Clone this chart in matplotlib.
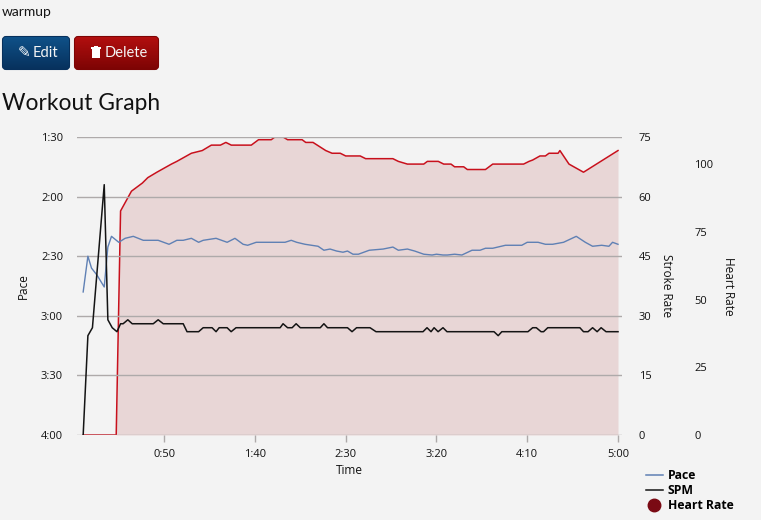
import numpy as np
import matplotlib
matplotlib.use('Agg')
import matplotlib.pyplot as plt
from matplotlib.lines import Line2D
from matplotlib.patches import FancyBboxPatch, Rectangle
from matplotlib.ticker import FuncFormatter

plt.rcParams['font.family'] = ['Open Sans', 'DejaVu Sans']

# seconds into the workout / pace in seconds per 500m
pace_time = [5.4, 8, 10, 13, 17, 19, 21, 25, 28.5, 33, 38.5, 46.7, 52.7, 57, 60.5, 65, 69, 71.5, 78.6,
             84.7, 89, 93.5, 96, 100.7, 108, 112.8, 116.6, 120, 123, 127.6, 134.8, 138, 141.4, 145,
             148.5, 151, 154, 157, 163, 170.6, 176, 179, 184, 188, 193, 197.6, 200, 203.6, 206, 210,
             214, 219.6, 224, 227, 231, 238, 247, 250, 256, 260, 264, 270, 277, 282, 286, 291, 295,
             297, 300]
pace_values = [168, 150, 156, 159.5, 165.5, 145.4, 140, 143, 141, 140, 142, 142, 144, 142, 142, 141,
               143, 142, 141, 143, 141, 144, 144.5, 143, 143, 143, 143, 142, 143, 144, 145, 147, 146.4,
               147.4, 148, 147.4, 149, 149, 147, 146.4, 145.4, 147, 146.4, 147.4, 149, 149.4, 149,
               149.4, 149.4, 149, 149.4, 147, 147, 146, 146, 144.5, 144.5, 143, 143, 144, 144, 143,
               140, 143, 145, 144.5, 145, 143, 144]

spm_time = [5.4, 8, 10.5, 17, 19, 21.4, 24, 26, 27.4, 30, 32.4, 44, 46.7, 49.5, 60.5, 62.6, 69, 71.5,
            76.4, 78.6, 80.3, 84.7, 86.9, 89.6, 113.9, 115.5, 118, 120.5, 122.7, 125, 136, 138, 140,
            151, 153.5, 156, 163.4, 166.7, 192.6, 194.8, 197, 198.7, 200.9, 203.6, 205.8, 231.7, 234,
            236, 250.4, 253, 255, 257.6, 259, 261.3, 279, 281, 283.5, 286, 288.5, 290.7, 293.4, 300]
spm_values = [0, 25, 27, 63, 29, 27, 26, 28, 28, 29, 28, 28, 29, 28, 28, 26, 26, 27, 27, 26, 27, 27, 26,
              27, 27, 28, 27, 27, 28, 27, 27, 28, 27, 27, 26, 27, 27, 26, 26, 27, 26, 27, 26, 27, 26,
              26, 25, 26, 26, 27, 27, 26, 26, 27, 27, 26, 26, 27, 26, 27, 26, 26]

hr_time = [5.4, 23.6, 26, 32, 38, 41, 46, 54, 57, 65, 71, 76, 81, 84, 87, 98, 102, 109, 111, 115.5, 118,
           126, 128, 132, 139, 142.5, 147, 150, 158, 161, 176, 179, 184, 193, 195, 201, 204, 208, 210,
           215, 217, 227, 231, 248, 251, 253, 257, 260, 262, 267, 268, 273, 281, 300]
hr_values = [0, 0, 82.7, 90, 93, 95, 97, 100, 101, 104, 105, 107, 107, 108, 107, 107, 109, 109, 110, 110,
             109, 109, 108, 108, 105, 104, 104, 103, 103, 102, 102, 101, 100, 100, 101, 101, 100, 100,
             99, 99, 98, 98, 100, 100, 101, 101.5, 103, 103, 104, 104, 105, 100, 97, 105]

pace_ticks = [90, 120, 150, 180, 210, 240]
spm_ticks = [0, 15, 30, 45, 60, 75]
hr_ticks = [0, 25, 50, 75, 100]
time_ticks = [50, 100, 150, 200, 250, 300]

W, H = 761, 520
bg = '#f3f3f3'
fig = plt.figure(figsize=(W / 100, H / 100), dpi=100, facecolor=bg)

# page furniture, in pixels
page = fig.add_axes([0, 0, 1, 1], zorder=0)
page.axis('off')


def button(x, y, w, h, top, bottom):
    box = FancyBboxPatch((x + 1, y + 1), w - 2, h - 2, boxstyle='round,pad=0,rounding_size=3',
                         mutation_aspect=1, linewidth=1.5, edgecolor=bottom, facecolor=top)
    page.add_patch(box)
    grad = np.linspace(0, 1, 40)[:, None, None]
    rgb = (1 - grad) * np.array(matplotlib.colors.to_rgb(top)) + grad * np.array(matplotlib.colors.to_rgb(bottom))
    im = page.imshow(rgb, extent=(x, x + w, y + h, y), aspect='auto', zorder=2)
    im.set_clip_path(box)


page.text(2, 12, 'warmup', family='Lato', fontsize=10, va='center', color='#151515')
button(2, 36, 68, 34, '#0f5289', '#07305c')
button(74, 36, 85, 34, '#b30f0f', '#7c0404')
page.text(24, 52.5, '\u270e', family='DejaVu Sans', fontsize=11, color='white', ha='center', va='center', zorder=3)
page.text(33, 53, 'Edit', family='Lato', fontsize=10.5, color='#f4f4f4', va='center', zorder=3)
page.text(105, 53, 'Delete', family='Lato', fontsize=10.5, color='#f4f4f4', va='center', zorder=3)
# trash can icon
page.add_patch(Rectangle((92, 49), 7.5, 9, facecolor='white', zorder=3))
page.add_patch(Rectangle((90.5, 47), 10.5, 1.5, facecolor='white', zorder=3))
page.add_patch(Rectangle((94, 45.5), 3.5, 1.5, facecolor='white', zorder=3))
page.text(2, 103, 'Workout Graph', family='Lato', fontsize=16.4, va='center', color='#111111')
page.set_xlim(0, W)
page.set_ylim(H, 0)

# plot box: 77..622 px across, 137..435 px down
rect = [77 / W, 1 - 435 / H, (622 - 77) / W, (435 - 137) / H]

ax_hr = fig.add_axes(rect, zorder=1)
ax_pace = fig.add_axes(rect, zorder=2)
ax_spm = fig.add_axes(rect, zorder=3)

for a in (ax_hr, ax_pace, ax_spm):
    a.patch.set_alpha(0)
    a.set_xlim(2, 302.2)
    for s in a.spines.values():
        s.set_visible(False)

ax_hr.fill_between(hr_time, hr_values, 0, color='#a82828', alpha=0.14, linewidth=0)
ax_hr.plot(hr_time, hr_values, color='#c8101c', linewidth=1.1)
ax_hr.set_ylim(0, 110)
ax_hr.yaxis.tick_right()
ax_hr.set_yticks(hr_ticks)
ax_hr.tick_params(axis='y', length=0, pad=52, labelsize=8, colors='#111111')
ax_hr.set_xticks([])
ax_hr.yaxis.set_label_position('right')
ax_hr.set_ylabel('Heart Rate', rotation=270, fontsize=8.5, color='#111111')
ax_hr.yaxis.set_label_coords((735 - 77) / 545, 0.5)

ax_pace.plot(pace_time, pace_values, color='#5f80b4', linewidth=1)
ax_pace.set_ylim(240, 90)
ax_pace.set_yticks(pace_ticks)
ax_pace.yaxis.set_major_formatter(FuncFormatter(lambda v, p: '%d:%02d' % (v // 60, v % 60)))
ax_pace.set_xticks(time_ticks)
ax_pace.xaxis.set_major_formatter(FuncFormatter(lambda v, p: '%d:%02d' % (v // 60, v % 60)))
ax_pace.grid(axis='y', color='#aeaaaa', linewidth=1)
ax_pace.set_axisbelow(True)
ax_pace.tick_params(axis='y', length=0, pad=10, labelsize=8, colors='#111111')
ax_pace.tick_params(axis='x', length=5, width=1, color='#aeaaaa', pad=5, labelsize=8, labelcolor='#111111')
ax_pace.set_xlabel('Time', fontsize=8.5, color='#111111')
ax_pace.xaxis.set_label_coords(0.5, -(471 - 435) / 298, transform=ax_pace.transAxes)
ax_pace.xaxis.label.set_verticalalignment('center')
ax_pace.set_ylabel('Pace', fontsize=8.5, color='#111111')
ax_pace.yaxis.set_label_coords((30 - 77) / 545, 0.5)

ax_spm.plot(spm_time, spm_values, color='#141414', linewidth=1.1)
ax_spm.set_ylim(0, 75)
ax_spm.yaxis.tick_right()
ax_spm.set_yticks(spm_ticks)
ax_spm.tick_params(axis='y', length=0, pad=12, labelsize=8, colors='#111111')
ax_spm.set_xticks([])
ax_spm.yaxis.set_label_position('right')
ax_spm.set_ylabel('Stroke Rate', rotation=270, fontsize=8.5, color='#111111')
ax_spm.yaxis.set_label_coords((673 - 77) / 545, 0.5)

handles = [Line2D([], [], color='#5f80b4', linewidth=1.1),
           Line2D([], [], color='#141414', linewidth=1.1),
           Line2D([], [], color='#7a0a14', linestyle='none', marker='o', markersize=9)]
leg = fig.legend(handles, ['Pace', 'SPM', 'Heart Rate'], loc='upper left',
                 bbox_to_anchor=(646 / W, 1 - 469 / H), frameon=False, handlelength=1.35,
                 handletextpad=0.45, labelspacing=0.18, borderpad=0, borderaxespad=0,
                 prop={'size': 8.8, 'weight': 'bold', 'family': 'Open Sans'})

fig.savefig('out.png', dpi=100, facecolor=bg)
